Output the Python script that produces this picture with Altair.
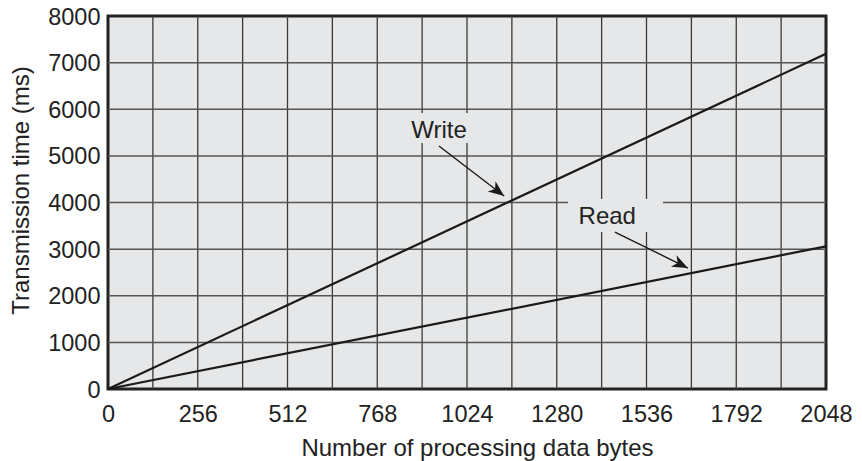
import altair as alt
import pandas as pd

# ---- data ----
x_bytes = [0, 2048]
write_ms = [0, 7190]
read_ms = [0, 3060]

x_tick_values = [0, 256, 512, 768, 1024, 1280, 1536, 1792, 2048]
y_tick_values = [0, 1000, 2000, 3000, 4000, 5000, 6000, 7000, 8000]
grid_x = [128, 256, 384, 512, 640, 768, 896, 1024, 1152, 1280, 1408, 1536, 1664, 1792, 1920]
grid_y = [1000, 2000, 3000, 4000, 5000, 6000, 7000]

label_text = ["Write", "Read"]
label_x = [944, 1424]
label_y = [5383, 3539]
box_x = [833, 1312]
box_x2 = [1033, 1583]
box_y = [5276, 3367]
box_y2 = [5920, 4075]
arrow_x = [944, 1446]
arrow_y = [5212, 3367]
arrow_x2 = [1130, 1654]
arrow_y2 = [4139, 2595]
arrow_angle = [127.6, 116.3]

FONT = "Liberation Sans"
BG = "#e6e7e8"

lines_df = pd.DataFrame({
    "bytes": x_bytes * 2,
    "ms": write_ms + read_ms,
    "series": ["Write"] * 2 + ["Read"] * 2,
})
gx_df = pd.DataFrame({"gx": grid_x})
gy_df = pd.DataFrame({"gy": grid_y})
lab_df = pd.DataFrame({
    "text": label_text, "x": label_x, "y": label_y,
    "bx": box_x, "bx2": box_x2, "by": box_y, "by2": box_y2,
    "ax": arrow_x, "ay": arrow_y, "ax2": arrow_x2, "ay2": arrow_y2,
    "angle": arrow_angle,
})

xscale = alt.Scale(domain=[0, 2048], nice=False, zero=False)
yscale = alt.Scale(domain=[0, 8000], nice=False, zero=False)

x_axis = alt.Axis(
    values=x_tick_values, format="d", grid=False, domain=False, ticks=False, tickSize=0,
    labelFont=FONT, labelFontSize=23.5, labelColor="#222", labelPadding=13,
    labelFlush=False, labelOverlap=False,
    title="Number of processing data bytes", titleFont=FONT, titleFontSize=24,
    titleFontWeight="normal", titleColor="#222", titleX=369, titleY=66,
    titleBaseline="alphabetic",
)
y_axis = alt.Axis(
    values=y_tick_values, format="d", grid=False, domain=False, ticks=False, tickSize=0,
    labelFont=FONT, labelFontSize=23.5, labelColor="#222", labelPadding=8,
    labelBaseline="alphabetic", labelOffset=8,
    labelFlush=False, labelOverlap=False,
    title="Transmission time (ms)", titleFont=FONT, titleFontSize=24,
    titleFontWeight="normal", titleColor="#222", titleX=-80, titleY=174,
    titleBaseline="alphabetic", titleAngle=270,
)

vgrid = alt.Chart(gx_df).mark_rule(color="#3a3a3a", strokeWidth=1.3).encode(
    x=alt.X("gx:Q", scale=xscale, axis=x_axis)
)
hgrid = alt.Chart(gy_df).mark_rule(color="#555555", strokeWidth=1.5).encode(
    y=alt.Y("gy:Q", scale=yscale, axis=y_axis)
)
boxes = alt.Chart(lab_df).mark_rect(fill=BG).encode(
    x=alt.X("bx:Q", scale=xscale), x2="bx2:Q",
    y=alt.Y("by:Q", scale=yscale), y2="by2:Q",
)
lines = alt.Chart(lines_df).mark_line(color="#1a1a1a", strokeWidth=2.2).encode(
    x=alt.X("bytes:Q", scale=xscale),
    y=alt.Y("ms:Q", scale=yscale),
    detail="series:N",
)
arrow_lines = alt.Chart(lab_df).mark_rule(color="#1a1a1a", strokeWidth=1.4).encode(
    x=alt.X("ax:Q", scale=xscale), x2="ax2:Q",
    y=alt.Y("ay:Q", scale=yscale), y2="ay2:Q",
)
arrow_heads = alt.Chart(lab_df).mark_point(
    shape="M0,0 L-0.4,1 L0,0.72 L0.4,1 Z", filled=True, color="#1a1a1a",
    size=1000, opacity=1,
).encode(
    x=alt.X("ax2:Q", scale=xscale),
    y=alt.Y("ay2:Q", scale=yscale),
    angle=alt.Angle("angle:Q", scale=None),
)
texts = alt.Chart(lab_df).mark_text(
    font=FONT, fontSize=24, color="#222", baseline="alphabetic", align="center"
).encode(
    x=alt.X("x:Q", scale=xscale),
    y=alt.Y("y:Q", scale=yscale),
    text="text:N",
)

chart = alt.layer(vgrid, hgrid, boxes, lines, arrow_lines, arrow_heads, texts).properties(
    width=718, height=373,
    autosize=alt.AutoSizeParams(type="none"),
    padding={"left": 100, "top": 8, "right": 28, "bottom": 72},
    background="white",
).configure_view(
    stroke="#222", strokeWidth=3, fill=BG
)

chart.save("out.html", embed_options={"renderer": "svg", "actions": False})
